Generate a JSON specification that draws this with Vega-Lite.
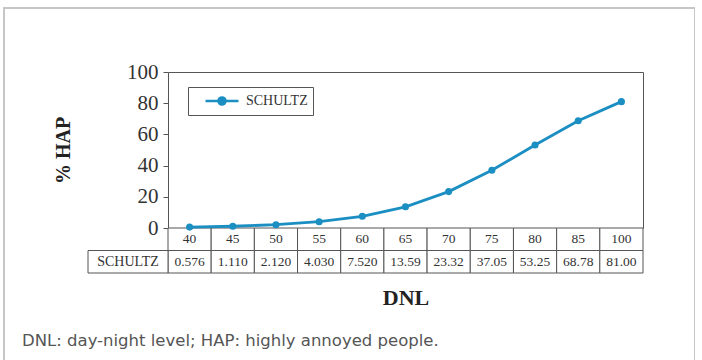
{
  "$schema": "https://vega.github.io/schema/vega-lite/v6.json",
  "width": 691,
  "height": 353,
  "autosize": {"type": "none"},
  "padding": {"left": 4, "top": 8, "right": 0, "bottom": 0},
  "background": "white",
  "config": {
    "view": {"stroke": "#c6c6c6", "strokeWidth": 2},
    "axis": {"grid": false}
  },
  "datasets": {
    "hap": [
      {"DNL": "40", "HAP": 0.576, "label": "0.576", "series": "SCHULTZ"},
      {"DNL": "45", "HAP": 1.11, "label": "1.110", "series": "SCHULTZ"},
      {"DNL": "50", "HAP": 2.12, "label": "2.120", "series": "SCHULTZ"},
      {"DNL": "55", "HAP": 4.03, "label": "4.030", "series": "SCHULTZ"},
      {"DNL": "60", "HAP": 7.52, "label": "7.520", "series": "SCHULTZ"},
      {"DNL": "65", "HAP": 13.59, "label": "13.59", "series": "SCHULTZ"},
      {"DNL": "70", "HAP": 23.32, "label": "23.32", "series": "SCHULTZ"},
      {"DNL": "75", "HAP": 37.05, "label": "37.05", "series": "SCHULTZ"},
      {"DNL": "80", "HAP": 53.25, "label": "53.25", "series": "SCHULTZ"},
      {"DNL": "85", "HAP": 68.78, "label": "68.78", "series": "SCHULTZ"},
      {"DNL": "100", "HAP": 81.0, "label": "81.00", "series": "SCHULTZ"}
    ],
    "series": [{"series": "SCHULTZ"}]
  },
  "title": {
    "text": "DNL: day-night level; HAP: highly annoyed people.",
    "orient": "bottom",
    "anchor": "start",
    "frame": "group",
    "offset": -28,
    "dx": 18,
    "font": "DejaVu Sans",
    "fontSize": 16.5,
    "fontWeight": "normal",
    "color": "#555"
  },
  "layer": [
    {
      "data": {"name": "hap"},
      "mark": {"type": "point", "opacity": 0},
      "encoding": {
        "x": {
          "field": "DNL", "type": "ordinal", "sort": null,
          "scale": {"type": "band", "domain": ["40","45","50","55","60","65","70","75","80","85","100"], "range": [164, 639], "paddingInner": 0, "paddingOuter": 0},
          "axis": {"orient": "top", "offset": -64, "labels": false, "ticks": false, "title": null, "domainColor": "#555", "domainWidth": 1}
        },
        "y": {
          "field": "HAP", "type": "quantitative",
          "scale": {"domain": [0, 100], "range": [220, 64], "nice": false, "zero": false},
          "axis": {"orient": "right", "offset": -52, "labels": false, "ticks": false, "title": null, "domainColor": "#555", "domainWidth": 1}
        }
      }
    },
    {
      "data": {"name": "hap"},
      "encoding": {
        "x": {
          "field": "DNL", "type": "ordinal", "sort": null,
          "scale": {"type": "band", "domain": ["40","45","50","55","60","65","70","75","80","85","100"], "range": [164, 639], "paddingInner": 0, "paddingOuter": 0},
          "axis": null
        },
        "y": {
          "datum": "head", "type": "ordinal",
          "scale": {"type": "band", "domain": ["head", "val"], "range": [220, 265], "paddingInner": 0, "paddingOuter": 0},
          "axis": null
        }
      },
      "layer": [
        {"mark": {"type": "rect", "fill": "white", "stroke": "#555", "strokeWidth": 1}},
        {"mark": {"type": "rect", "fill": "white", "stroke": "#555", "strokeWidth": 1}, "encoding": {"y": {"datum": "val", "type": "ordinal", "axis": null}}},
        {"mark": {"type": "text", "font": "Liberation Serif", "fontSize": 13.5, "color": "#333"}, "encoding": {"text": {"field": "DNL"}}},
        {"mark": {"type": "text", "font": "Liberation Serif", "fontSize": 13.5, "color": "#333"}, "encoding": {"y": {"datum": "val", "type": "ordinal", "axis": null}, "text": {"field": "label"}}}
      ]
    },
    {
      "data": {"name": "series"},
      "encoding": {
        "x": {
          "field": "series", "type": "nominal",
          "scale": {"type": "band", "domain": ["SCHULTZ"], "range": [84, 164], "paddingInner": 0, "paddingOuter": 0},
          "axis": null
        },
        "y": {
          "datum": "val", "type": "ordinal",
          "scale": {"type": "band", "domain": ["head", "val"], "range": [220, 265], "paddingInner": 0, "paddingOuter": 0},
          "axis": null
        }
      },
      "layer": [
        {"mark": {"type": "rect", "fill": "white", "stroke": "#555", "strokeWidth": 1}},
        {"mark": {"type": "text", "font": "Liberation Serif", "fontSize": 14, "color": "#333"}, "encoding": {"text": {"field": "series"}}}
      ]
    },
    {
      "data": {"name": "hap"},
      "mark": {"type": "line", "strokeWidth": 2.8, "point": {"filled": true, "size": 50, "opacity": 1}},
      "encoding": {
        "x": {
          "field": "DNL", "type": "ordinal", "sort": null,
          "scale": {"type": "band", "domain": ["40","45","50","55","60","65","70","75","80","85","100"], "range": [164, 639], "paddingInner": 0, "paddingOuter": 0},
          "axis": {"orient": "bottom", "offset": -88, "labels": false, "ticks": false, "domain": false, "title": "DNL", "titlePadding": 14, "titleFont": "Liberation Serif", "titleFontSize": 22, "titleFontWeight": "bold", "titleColor": "#222"}
        },
        "y": {
          "field": "HAP", "type": "quantitative",
          "scale": {"domain": [0, 100], "range": [220, 64], "nice": false, "zero": false},
          "axis": {"orient": "left", "offset": -164, "values": [0, 20, 40, 60, 80, 100], "tickSize": 5, "tickColor": "#555", "domainColor": "#555", "labelFont": "Liberation Serif", "labelFontSize": 21, "labelColor": "#333", "labelPadding": 5, "title": "% HAP", "titleFont": "Liberation Serif", "titleFontSize": 20, "titleFontWeight": "bold", "titleColor": "#222", "titlePadding": 53}
        },
        "color": {
          "field": "series", "type": "nominal",
          "scale": {"domain": ["SCHULTZ"], "range": ["#1b8ec2"]},
          "legend": {
            "orient": "none", "legendX": 184, "legendY": 79, "title": null,
            "padding": 5, "strokeColor": "#555",
            "symbolType": "M-2.2,0H2.2M0.47,0A0.47,0.47,0,1,1,-0.47,0A0.47,0.47,0,1,1,0.47,0Z",
            "symbolSize": 225, "symbolStrokeWidth": 2.5, "symbolOffset": 20,
            "symbolFillColor": "#1b8ec2",
            "labelOffset": 15, "labelFont": "Liberation Serif", "labelFontSize": 14, "labelColor": "#333",
            "encode": {"symbols": {"update": {"fill": {"value": "#1b8ec2"}, "stroke": {"value": "#1b8ec2"}, "opacity": {"value": 1}}}}
          }
        }
      }
    }
  ],
  "resolve": {"scale": {"x": "independent", "y": "independent"}}
}
